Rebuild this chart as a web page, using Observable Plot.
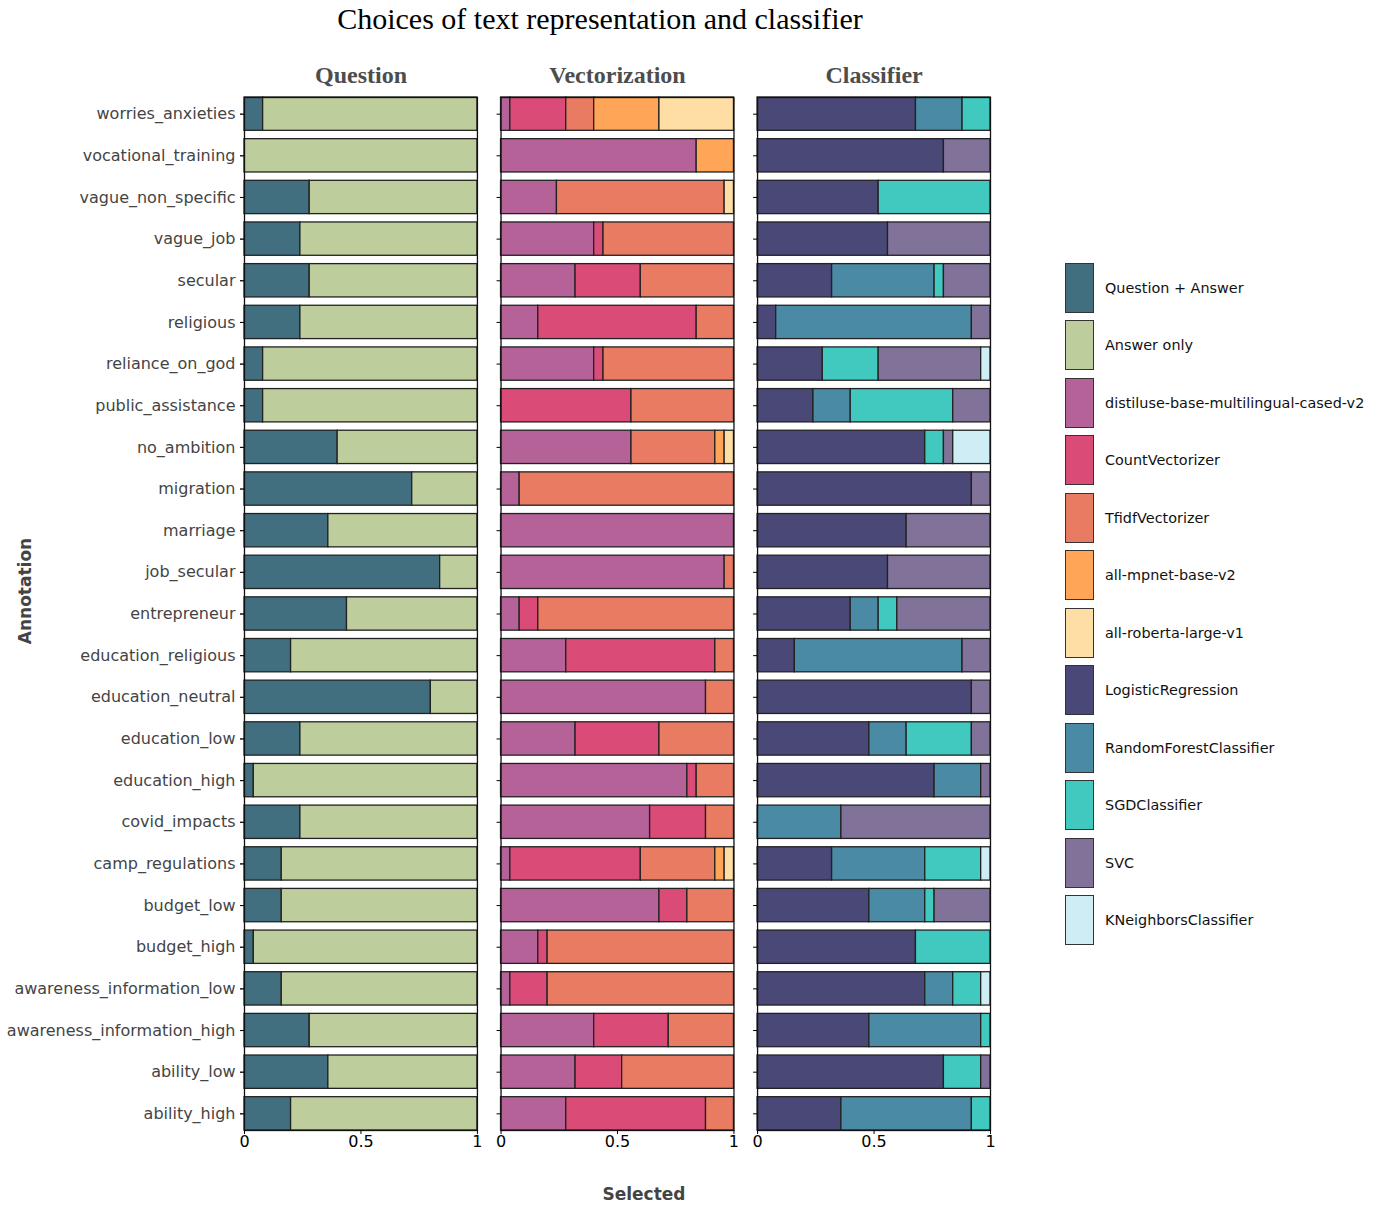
<!DOCTYPE html>
<html>
<head>
<meta charset="utf-8">
<script src="https://cdn.jsdelivr.net/npm/d3@7"></script>
<script src="https://cdn.jsdelivr.net/npm/@observablehq/plot@0.6"></script>
<style>
  body { margin: 0; background: #fff; width: 1378px; height: 1210px; position: relative; overflow: hidden; }
  #title { height: 45px; width: 1200px; text-align: center; font-family: "Liberation Serif", serif; font-size: 30px; line-height: 38px; color: #000; }
  #xlabel { position: absolute; left: 544px; width: 200px; top: 1184px; text-align: center; font-family: "DejaVu Sans", sans-serif; font-weight: bold; font-size: 17px; color: #444; }
  #ylabel { position: absolute; left: 25px; top: 591px; transform: translate(-50%, -50%) rotate(-90deg); font-family: "DejaVu Sans", sans-serif; font-weight: bold; font-size: 17px; color: #444; white-space: nowrap; }
  #legend { position: absolute; left: 1065px; top: 259px; font-family: "DejaVu Sans", sans-serif; font-size: 14.4px; color: #111; }
  .item { display: flex; align-items: center; height: 57.5px; }
  .sw { width: 27px; height: 48px; border: 1px solid #333; box-sizing: content-box; margin-right: 11px; }
</style>
</head>
<body>
<div id="title">Choices of text representation and classifier</div>
<div id="chart"></div>
<div id="ylabel">Annotation</div>
<div id="xlabel">Selected</div>
<div id="legend"></div>
<script>
// Categories, top to bottom
const categories = ["worries_anxieties","vocational_training","vague_non_specific","vague_job","secular","religious","reliance_on_god","public_assistance","no_ambition","migration","marriage","job_secular","entrepreneur","education_religious","education_neutral","education_low","education_high","covid_impacts","camp_regulations","budget_low","budget_high","awareness_information_low","awareness_information_high","ability_low","ability_high"];

const facets = ["Question","Vectorization","Classifier"];

const questionLevels = ["Question + Answer","Answer only"];
const vectorizerLevels = ["distiluse-base-multilingual-cased-v2","CountVectorizer","TfidfVectorizer","all-mpnet-base-v2","all-roberta-large-v1"];
const classifierLevels = ["LogisticRegression","RandomForestClassifier","SGDClassifier","SVC","KNeighborsClassifier"];

const levelColors = ["#416f80","#bdce9c","#b46297","#db4b78","#e87b62","#fea558","#fedea5","#4a4877","#4a8aa4","#42c9bf","#807298","#ceedf4"];

// Question facet shares (category order)
const qQuestionAnswer = [0.08,0.00,0.28,0.24,0.28,0.24,0.08,0.08,0.40,0.72,0.36,0.84,0.44,0.20,0.80,0.24,0.04,0.24,0.16,0.16,0.04,0.16,0.28,0.36,0.20];
const qAnswerOnly     = [0.92,1.00,0.72,0.76,0.72,0.76,0.92,0.92,0.60,0.28,0.64,0.16,0.56,0.80,0.20,0.76,0.96,0.76,0.84,0.84,0.96,0.84,0.72,0.64,0.80];

// Vectorization facet shares
const vDistiluse = [0.04,0.84,0.24,0.40,0.32,0.16,0.40,0.00,0.56,0.08,1.00,0.96,0.08,0.28,0.88,0.32,0.80,0.64,0.04,0.68,0.16,0.04,0.40,0.32,0.28];
const vCount     = [0.24,0.00,0.00,0.04,0.28,0.68,0.04,0.56,0.00,0.00,0.00,0.00,0.08,0.64,0.00,0.36,0.04,0.24,0.56,0.12,0.04,0.16,0.32,0.20,0.60];
const vTfidf     = [0.12,0.00,0.72,0.56,0.40,0.16,0.56,0.44,0.36,0.92,0.00,0.04,0.84,0.08,0.12,0.32,0.16,0.12,0.32,0.20,0.80,0.80,0.28,0.48,0.12];
const vMpnet     = [0.28,0.16,0.00,0.00,0.00,0.00,0.00,0.00,0.04,0.00,0.00,0.00,0.00,0.00,0.00,0.00,0.00,0.00,0.04,0.00,0.00,0.00,0.00,0.00,0.00];
const vRoberta   = [0.32,0.00,0.04,0.00,0.00,0.00,0.00,0.00,0.04,0.00,0.00,0.00,0.00,0.00,0.00,0.00,0.00,0.00,0.04,0.00,0.00,0.00,0.00,0.00,0.00];

// Classifier facet shares
const cLogReg = [0.68,0.80,0.52,0.56,0.32,0.08,0.28,0.24,0.72,0.92,0.64,0.56,0.40,0.16,0.92,0.48,0.76,0.00,0.32,0.48,0.68,0.72,0.48,0.80,0.36];
const cForest = [0.20,0.00,0.00,0.00,0.44,0.84,0.00,0.16,0.00,0.00,0.00,0.00,0.12,0.72,0.00,0.16,0.20,0.36,0.40,0.24,0.00,0.12,0.48,0.00,0.56];
const cSGD    = [0.12,0.00,0.48,0.00,0.04,0.00,0.24,0.44,0.08,0.00,0.00,0.00,0.08,0.00,0.00,0.28,0.00,0.00,0.24,0.04,0.32,0.12,0.04,0.16,0.08];
const cSVC    = [0.00,0.20,0.00,0.44,0.20,0.08,0.44,0.16,0.04,0.08,0.36,0.44,0.40,0.12,0.08,0.08,0.04,0.64,0.00,0.24,0.00,0.00,0.00,0.04,0.00];
const cKNN    = [0.00,0.00,0.00,0.00,0.00,0.00,0.04,0.00,0.16,0.00,0.00,0.00,0.00,0.00,0.00,0.00,0.00,0.00,0.04,0.00,0.00,0.04,0.00,0.00,0.00];

const series = [
  ["Question", questionLevels, [qQuestionAnswer, qAnswerOnly]],
  ["Vectorization", vectorizerLevels, [vDistiluse, vCount, vTfidf, vMpnet, vRoberta]],
  ["Classifier", classifierLevels, [cLogReg, cForest, cSGD, cSVC, cKNN]]
];
const allLevels = [...questionLevels, ...vectorizerLevels, ...classifierLevels];

const rows = [];
for (const [facet, levels, arrays] of series) {
  levels.forEach((level, li) => {
    categories.forEach((cat, ci) => {
      const v = arrays[li][ci];
      if (v > 0) rows.push({facet, category: cat, level, value: v});
    });
  });
}

const chart = Plot.plot({
  width: 1378,
  height: 1120,
  marginLeft: 244,
  marginRight: 388,
  marginTop: 52,
  marginBottom: 35,
  style: {fontFamily: "DejaVu Sans, sans-serif", fontSize: "16px", color: "#000", background: "#fff"},
  fx: {domain: facets, padding: 0.092, axis: null, label: null, round: false},
  y: {domain: categories, paddingInner: 0.2, paddingOuter: 0, label: null, round: false, axis: null},
  x: {domain: [0, 1], label: null, axis: null},
  color: {domain: allLevels, range: levelColors},
  marks: [
    Plot.barX(rows, Plot.stackX({x: "value", y: "category", fx: "facet", fill: "level", order: allLevels, stroke: "#222", strokeWidth: 1.3})),
    Plot.frame({stroke: "#111", strokeWidth: 1.3}),
    Plot.axisFx({anchor: "top", tickSize: 0, tickPadding: 15, label: null, fontFamily: "Liberation Serif, serif", fontWeight: "bold", fontSize: 24, color: "#4d4d4d"}),
    Plot.axisY({anchor: "left", tickSize: 4, tickPadding: 5, label: null, fontSize: 16, color: "#444"}),
    Plot.axisY({anchor: "left", tickSize: 4, tickFormat: () => "", label: null, facetAnchor: null}),
    Plot.axisX({anchor: "bottom", ticks: [0, 0.5, 1], tickFormat: d => d === 0.5 ? "0.5" : String(d), tickSize: 4, tickPadding: 1, label: null, fontSize: 16})
  ]
});
document.getElementById("chart").appendChild(chart);

// legend
const lg = document.getElementById("legend");
allLevels.forEach((lv, i) => {
  const item = document.createElement("div");
  item.className = "item";
  const sw = document.createElement("div");
  sw.className = "sw";
  sw.style.background = levelColors[i];
  const tx = document.createElement("span");
  tx.textContent = lv;
  item.appendChild(sw); item.appendChild(tx);
  lg.appendChild(item);
});
</script>
</body>
</html>
